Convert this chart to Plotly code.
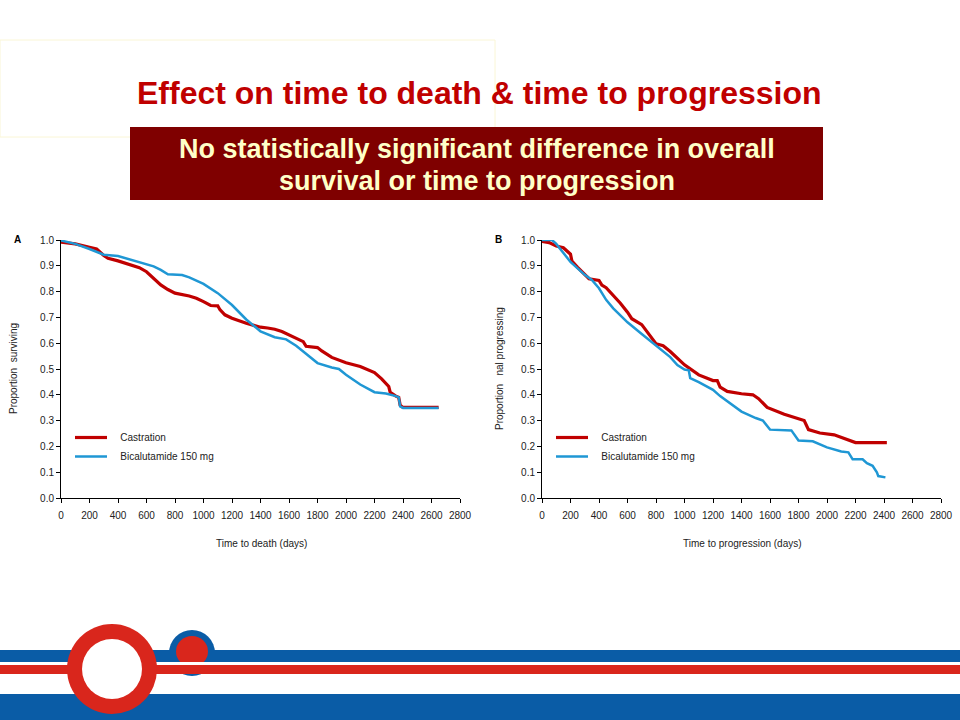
import plotly.graph_objects as go

# ---------------- data ----------------
# Panel A: overall survival
a_cast_days = [0, 100, 200, 250, 300, 330, 400, 500, 550, 600, 650, 700, 750, 800, 900, 950,
               1000, 1050, 1100, 1115, 1150, 1200, 1300, 1400, 1450, 1500, 1550, 1600, 1650,
               1700, 1720, 1800, 1830, 1900, 2000, 2100, 2200, 2250, 2300, 2310, 2350, 2370,
               2380, 2400, 2650]
a_cast_surv = [0.992, 0.985, 0.972, 0.965, 0.94, 0.929, 0.919, 0.903, 0.893, 0.877, 0.85, 0.826,
               0.808, 0.794, 0.783, 0.774, 0.761, 0.746, 0.745, 0.73, 0.71, 0.697, 0.677, 0.662,
               0.659, 0.654, 0.645, 0.632, 0.618, 0.606, 0.588, 0.583, 0.57, 0.545, 0.524, 0.51,
               0.486, 0.462, 0.432, 0.41, 0.395, 0.39, 0.36, 0.351, 0.351]

a_bica_days = [0, 100, 200, 300, 400, 500, 580, 650, 700, 750, 850, 900, 1000, 1100, 1200, 1300,
               1400, 1500, 1580, 1650, 1700, 1800, 1900, 1950, 2000, 2100, 2200, 2280, 2350,
               2370, 2380, 2400, 2650]
a_bica_surv = [0.998, 0.985, 0.965, 0.943, 0.938, 0.923, 0.91, 0.898, 0.884, 0.867, 0.864, 0.855,
               0.83, 0.794, 0.748, 0.692, 0.646, 0.623, 0.615, 0.59, 0.568, 0.523, 0.506, 0.5,
               0.478, 0.44, 0.41, 0.405, 0.395, 0.39, 0.355, 0.349, 0.349]

# Panel B: time to progression
b_cast_days = [0, 50, 100, 150, 200, 210, 250, 300, 330, 400, 420, 450, 500, 550, 600, 630, 700,
               800, 850, 900, 1000, 1100, 1200, 1230, 1250, 1300, 1400, 1480, 1520, 1580, 1700,
               1800, 1840, 1870, 1950, 2050, 2100, 2200, 2420]
b_cast_prop = [0.995, 0.99, 0.977, 0.97, 0.945, 0.918, 0.894, 0.868, 0.85, 0.843, 0.825, 0.815,
               0.787, 0.755, 0.72, 0.695, 0.672, 0.598, 0.59, 0.568, 0.516, 0.477, 0.455, 0.455,
               0.43, 0.413, 0.404, 0.4, 0.385, 0.351, 0.325, 0.306, 0.3, 0.265, 0.252, 0.245,
               0.235, 0.215, 0.215]

b_bica_days = [0, 70, 100, 150, 200, 300, 350, 400, 450, 500, 600, 700, 800, 900, 950, 1000, 1030,
               1040, 1100, 1200, 1250, 1300, 1400, 1500, 1550, 1600, 1750, 1800, 1900, 2000, 2100,
               2150, 2180, 2250, 2280, 2320, 2350, 2360, 2410]
b_bica_prop = [1.0, 1.0, 0.985, 0.95, 0.915, 0.865, 0.845, 0.813, 0.768, 0.735, 0.681, 0.636,
               0.59, 0.546, 0.515, 0.498, 0.495, 0.465, 0.449, 0.419, 0.395, 0.374, 0.335, 0.31,
               0.3, 0.265, 0.262, 0.223, 0.22, 0.196, 0.18, 0.177, 0.15, 0.15, 0.135, 0.125,
               0.1, 0.085, 0.08]

series_names = ["Castration", "Bicalutamide 150 mg"]
x_ticks = list(range(0, 2801, 200))
y_ticks = [i / 10 for i in range(11)]

RED = "#c00000"
BLUE = "#1f97d4"
W, H = 960, 720
FONT = "Liberation Sans, Arial, sans-serif"
PAD = "\u00a0\u00a0\u00a0"  # gap between legend line sample and its label


def px(x):
    return x / W


def py(y):
    return 1 - y / H


fig = go.Figure()

fig.add_trace(go.Scatter(x=a_cast_days, y=a_cast_surv, mode="lines", name=PAD + series_names[0],
                         line=dict(color=RED, width=3.2), xaxis="x", yaxis="y", legend="legend"))
fig.add_trace(go.Scatter(x=a_bica_days, y=a_bica_surv, mode="lines", name=PAD + series_names[1],
                         line=dict(color=BLUE, width=2.5), xaxis="x", yaxis="y", legend="legend"))
fig.add_trace(go.Scatter(x=b_cast_days, y=b_cast_prop, mode="lines", name=PAD + series_names[0],
                         line=dict(color=RED, width=3.2), xaxis="x2", yaxis="y2", legend="legend2"))
fig.add_trace(go.Scatter(x=b_bica_days, y=b_bica_prop, mode="lines", name=PAD + series_names[1],
                         line=dict(color=BLUE, width=2.5), xaxis="x2", yaxis="y2", legend="legend2"))

ax_common = dict(showline=True, linecolor="#000", linewidth=1, showgrid=False, zeroline=False,
                 ticks="outside", ticklen=4, tickcolor="#000", tickfont=dict(size=10, color="#222"),
                 fixedrange=True, automargin=False)
xa = dict(ax_common, range=[0, 2800], tickvals=x_ticks, ticklabelstandoff=4)
ya = dict(ax_common, range=[0, 1], tickvals=y_ticks, tickformat=".1f")

legend_common = dict(xanchor="left", yanchor="top", bgcolor="rgba(0,0,0,0)",
                     font=dict(size=10, color="#222"), tracegroupgap=0, itemwidth=32)

fig.update_layout(
    width=W, height=H, margin=dict(l=0, r=0, t=0, b=0, pad=0, autoexpand=False),
    paper_bgcolor="white", plot_bgcolor="white",
    font=dict(family=FONT, color="#222"),
    xaxis=dict(xa, domain=[px(61), px(460)], anchor="y"),
    yaxis=dict(ya, domain=[py(498), py(240)], anchor="x"),
    xaxis2=dict(xa, domain=[px(542), px(941)], anchor="y2"),
    yaxis2=dict(ya, domain=[py(498), py(240)], anchor="x2"),
    legend=dict(legend_common, x=px(70), y=py(423)),
    legend2=dict(legend_common, x=px(551), y=py(423)),
    showlegend=True,
)


def text_ann(text, x, y, size, color="#222", angle=0, family=FONT):
    return dict(text=text, x=px(x), y=py(y), xref="paper", yref="paper", showarrow=False,
                xanchor="center", yanchor="middle", textangle=angle,
                font=dict(size=size, color=color, family=family))


ann = [
    text_ann("<b>Effect on time to death & time to progression</b>", 479, 93, 32, "#c00000"),
    text_ann("<b>No statistically significant difference in overall</b>", 477, 149, 27, "#ffffc8"),
    text_ann("<b>survival or time to progression</b>", 477, 181, 27, "#ffffc8"),
    text_ann("<b>A</b>", 17, 240, 10, "#000"),
    text_ann("<b>B</b>", 498, 240, 10, "#000"),
    text_ann("Time to death (days)", 261, 543, 10),
    text_ann("Time to progression (days)", 742, 543, 10),
    text_ann("Proportion  surviving", 14, 369, 10, angle=-90),
    text_ann("Proportion   nal progressing", 500, 369, 10, angle=-90),
]
fig.update_layout(annotations=ann)

shapes = []
# faint outline box top-left (partly hidden behind the dark red box)
shapes.append(dict(type="rect", xref="paper", yref="paper", x0=px(0), x1=px(495), y0=py(137), y1=py(40),
                   line=dict(color="#faf6d6", width=1), fillcolor="rgba(0,0,0,0)", layer="below"))
# dark red box
shapes.append(dict(type="rect", xref="paper", yref="paper", x0=px(130), x1=px(823), y0=py(200), y1=py(127),
                   line=dict(width=0), fillcolor="#7f0000", layer="below"))

BBLUE = "#0a5ca6"
BRED = "#d9261c"
# bottom decoration
shapes.append(dict(type="circle", xref="paper", yref="paper", x0=px(169), x1=px(215), y0=py(676), y1=py(630),
                   line=dict(width=0), fillcolor=BBLUE))
shapes.append(dict(type="rect", xref="paper", yref="paper", x0=0, x1=1, y0=py(662), y1=py(650),
                   line=dict(width=0), fillcolor=BBLUE))
shapes.append(dict(type="circle", xref="paper", yref="paper", x0=px(176), x1=px(208), y0=py(667), y1=py(636),
                   line=dict(width=0), fillcolor=BRED))
shapes.append(dict(type="rect", xref="paper", yref="paper", x0=0, x1=1, y0=py(665), y1=py(662),
                   line=dict(width=0), fillcolor="white"))
shapes.append(dict(type="rect", xref="paper", yref="paper", x0=0, x1=1, y0=py(674), y1=py(665),
                   line=dict(width=0), fillcolor=BRED))
shapes.append(dict(type="rect", xref="paper", yref="paper", x0=0, x1=1, y0=py(720), y1=py(694),
                   line=dict(width=0), fillcolor=BBLUE))
shapes.append(dict(type="circle", xref="paper", yref="paper", x0=px(67), x1=px(157), y0=py(714), y1=py(624),
                   line=dict(width=0), fillcolor=BRED))
shapes.append(dict(type="circle", xref="paper", yref="paper", x0=px(82), x1=px(142), y0=py(699), y1=py(639),
                   line=dict(width=0), fillcolor="white"))
fig.update_layout(shapes=shapes)

fig.write_html("out.html", config={"displayModeBar": False},
               post_script="document.body.style.margin='0';document.body.style.overflow='hidden';"
                           "document.documentElement.style.overflow='hidden';")
